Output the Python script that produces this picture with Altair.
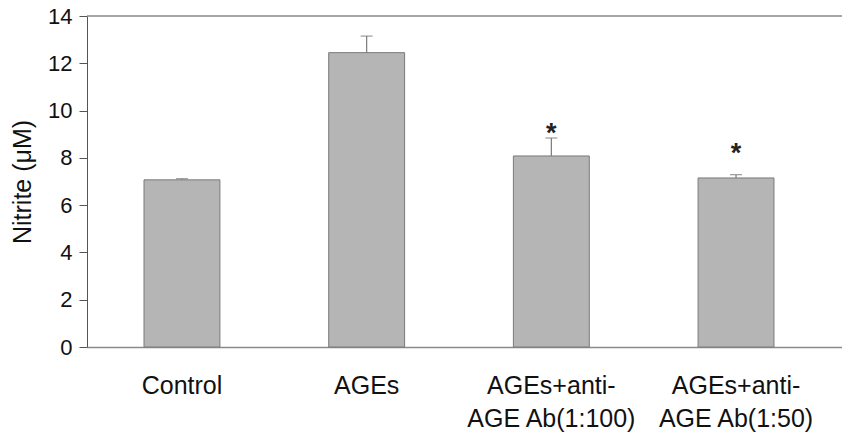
import altair as alt
import pandas as pd

categories = ["Control", "AGEs", "AGEs+anti-AGE Ab(1:100)", "AGEs+anti-AGE Ab(1:50)"]
means = [7.07, 12.45, 8.08, 7.15]
errors = [0.05, 0.70, 0.76, 0.14]
stars = ["", "", "*", "*"]
star_pos = [0.0, 0.0, 9.30, 8.45]
y_ticks = [0, 2, 4, 6, 8, 10, 12, 14]

df = pd.DataFrame({
    "cat": categories,
    "mean": means,
    "upper": [m + e for m, e in zip(means, errors)],
    "star": stars,
    "star_pos": star_pos,
})

FONT = "Liberation Sans"

xs = alt.Scale(domain=categories, paddingInner=0.589, paddingOuter=0.3385, align=0.456)
ys = alt.Scale(domain=[0, 14], nice=False, zero=True)

x_enc = alt.X(
    "cat:N", scale=xs, sort=categories, title=None,
    axis=alt.Axis(
        ticks=False, domain=True, domainColor="#8a8a8a", domainWidth=1.5,
        labelAngle=0, labelFont=FONT, labelFontSize=25, labelColor="#111111",
        labelPadding=26, labelLineHeight=33, labelBaseline="top",
        labelExpr="split(replace(datum.label, 'anti-', 'anti-|'), '|')",
        labelLimit=400,
    ),
)

y_enc = alt.Y(
    "mean:Q", scale=ys,
    axis=alt.Axis(
        values=y_ticks, format="d", grid=False,
        domainColor="#555555", domainWidth=1, tickColor="#555555", tickSize=8,
        labelFont=FONT, labelFontSize=22, labelColor="#111111", labelPadding=7,
        title="Nitrite (μM)", titleFont=FONT, titleFontSize=25, titleFontWeight="normal",
        titleColor="#111111", titleAngle=270, titleX=-65, titleY=165.5,
        titleAlign="center", titleBaseline="middle",
    ),
)

base = alt.Chart(df)

bars = base.mark_bar(color="#b5b5b5", stroke="#7a7a7a", strokeWidth=1).encode(
    x=x_enc, y=y_enc
)

err_line = base.mark_rule(color="#7a7a7a", strokeWidth=1.2).encode(
    x=alt.X("cat:N", scale=xs, sort=categories),
    y=alt.Y("mean:Q", scale=ys),
    y2="upper:Q",
)

err_cap = base.mark_tick(color="#7a7a7a", size=12, thickness=1.3, orient="horizontal").encode(
    x=alt.X("cat:N", scale=xs, sort=categories),
    y=alt.Y("upper:Q", scale=ys),
)

star_text = base.transform_filter("datum.star != ''").mark_text(
    font=FONT, fontSize=27, fontWeight="bold", color="#222222",
    baseline="alphabetic", dy=15,
).encode(
    x=alt.X("cat:N", scale=xs, sort=categories),
    y=alt.Y("star_pos:Q", scale=ys),
    text="star:N",
)

top_line = alt.Chart(pd.DataFrame({"v": [14]})).mark_rule(
    color="#8a8a8a", strokeWidth=1.5
).encode(y=alt.Y("v:Q", scale=ys))

chart = alt.layer(bars, err_line, err_cap, star_text, top_line).properties(
    width=755, height=331,
    autosize=alt.AutoSizeParams(type="none"),
    padding={"left": 87, "top": 16, "right": 0, "bottom": 88},
    background="white",
).configure_view(stroke=None)

chart.save("out.html", embed_options={"renderer": "svg", "actions": False})
